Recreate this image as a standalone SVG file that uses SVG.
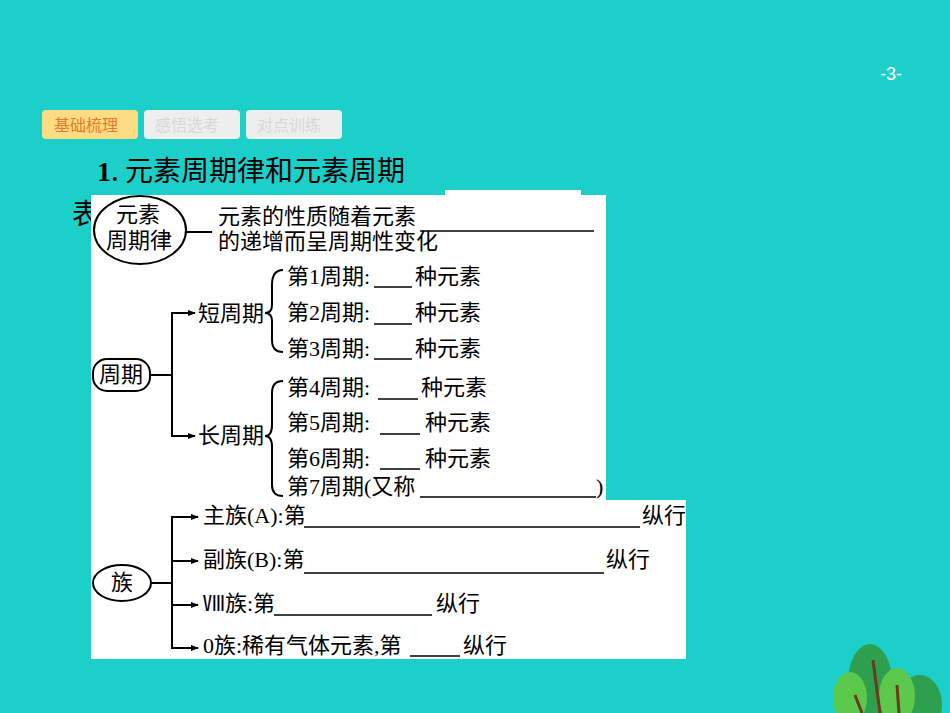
<svg xmlns="http://www.w3.org/2000/svg" width="950" height="713" viewBox="0 0 950 713">
<style>
text{font-family:"Liberation Serif","Noto Sans CJK SC",serif;fill:#000}
.t{font-size:22px}
.l{stroke:#000;stroke-width:2;fill:none}
.u{stroke:#000;stroke-width:1.5}
.tab{font-family:"Noto Sans CJK SC",sans-serif;font-size:16px}
</style>
<defs><marker id="a" markerWidth="8" markerHeight="8" refX="7" refY="4" orient="auto" markerUnits="userSpaceOnUse"><path d="M0,1 L8,4 L0,7z" fill="#000"/></marker></defs>
<rect width="950" height="713" fill="#1ccfc9"/>
<text x="880" y="80" style="font-family:'Liberation Sans',sans-serif;font-size:18px;fill:#fff">-3-</text>
<g id="tabs">
<rect x="42" y="110" width="96" height="29" rx="4" fill="#fddc84"/><text class="tab" x="54" y="131" style="fill:#e8782a">基础梳理</text>
<rect x="144" y="110" width="96" height="29" rx="4" fill="#eeeeee"/><text class="tab" x="155" y="131" style="fill:#d8d8d8">感悟选考</text>
<rect x="246" y="110" width="96" height="29" rx="4" fill="#eeeeee"/><text class="tab" x="257" y="131" style="fill:#d8d8d8">对点训练</text>
</g>
<text x="97" y="181" style="font-size:28px;font-family:'Noto Sans CJK SC',sans-serif"><tspan font-family="Liberation Serif" font-weight="bold">1</tspan>. 元素周期律和元素周期</text>
<text x="72" y="224" style="font-size:28px;font-family:'Noto Sans CJK SC',sans-serif">表</text>
<rect x="445" y="190" width="136" height="10" fill="#fff"/>
<path d="M91,195 H606 V500 H686 V659 H91Z" fill="#fff"/>
<g id="n1"><ellipse cx="140" cy="230" rx="46" ry="34" class="l"/><text class="t" x="116" y="222">元素</text><text class="t" x="106" y="248">周期律</text>
<text class="t" x="218" y="224">元素的性质随着元素</text><line class="u" x1="420" y1="231" x2="594" y2="231"/><text class="t" x="218" y="249">的递增而呈周期性变化</text></g>
<g id="n2"><rect x="93" y="359" width="57" height="32" rx="14" class="l"/><text class="t" x="99" y="382">周期</text>
<text class="t" x="198" y="321">短周期</text><text class="t" x="198" y="443">长周期</text>
<text class="t" x="287" y="284">第1周期:</text><line class="u" x1="374" y1="287" x2="412" y2="287"/><text class="t" x="415" y="284">种元素</text>
<text class="t" x="287" y="320">第2周期:</text><line class="u" x1="374" y1="324" x2="412" y2="324"/><text class="t" x="415" y="320">种元素</text>
<text class="t" x="287" y="356">第3周期:</text><line class="u" x1="374" y1="359" x2="412" y2="359"/><text class="t" x="415" y="356">种元素</text>
<text class="t" x="287" y="395">第4周期:</text><line class="u" x1="378" y1="399" x2="418" y2="399"/><text class="t" x="421" y="395">种元素</text>
<text class="t" x="287" y="430">第5周期:</text><line class="u" x1="380" y1="434" x2="420" y2="434"/><text class="t" x="425" y="430">种元素</text>
<text class="t" x="287" y="466">第6周期:</text><line class="u" x1="380" y1="469" x2="420" y2="469"/><text class="t" x="425" y="466">种元素</text>
<text class="t" x="287" y="494">第7周期(又称</text><line class="u" x1="420" y1="497" x2="596" y2="497"/><text class="t" x="596" y="494">)</text></g>
<g id="n3"><ellipse cx="122" cy="583" rx="29" ry="18" class="l"/><text class="t" x="111" y="590">族</text>
<text class="t" x="203" y="523">主族(A):第</text><line class="u" x1="304" y1="527" x2="640" y2="527"/><text class="t" x="642" y="523">纵行</text>
<text class="t" x="203" y="567">副族(B):第</text><line class="u" x1="304" y1="573" x2="604" y2="573"/><text class="t" x="606" y="567">纵行</text>
<text class="t" x="203" y="611">Ⅷ族:第</text><line class="u" x1="274" y1="615" x2="432" y2="615"/><text class="t" x="436" y="611">纵行</text>
<text class="t" x="203" y="653">0族:稀有气体元素,第</text><line class="u" x1="410" y1="656" x2="460" y2="656"/><text class="t" x="463" y="653">纵行</text></g>
<g id="connectors">
<path class="l" d="M186,232 H212"/>
<path class="l" d="M150,375 H172 M172,375 V313 H195 M172,375 V436 H195"/>
<path class="l" d="M185,313 H195" marker-end="url(#a)"/><path class="l" d="M185,436 H195" marker-end="url(#a)"/>
<path class="l" d="M283,270 Q272,270 272,285 V305 Q272,313 265,313 Q272,313 272,321 V340 Q272,352 283,352"/>
<path class="l" d="M283,381 Q272,381 272,393 V425 Q272,436 265,436 Q272,436 272,447 V485 Q272,496 283,496"/>
<path class="l" d="M151,583 H172 M172,583 V517 H198 M172,583 V648 H198 M172,561 H198 M172,605 H198"/>
<path class="l" d="M190,517 H198" marker-end="url(#a)"/><path class="l" d="M190,561 H198" marker-end="url(#a)"/><path class="l" d="M190,605 H198" marker-end="url(#a)"/><path class="l" d="M190,648 H198" marker-end="url(#a)"/>
</g>
<g id="trees">
<ellipse cx="920" cy="705" rx="22" ry="30" fill="#2e9e4f"/>
<ellipse cx="870" cy="682" rx="22" ry="38" fill="#2e9e4f"/>
<ellipse cx="850" cy="698" rx="17" ry="26" fill="#5cc84c"/>
<ellipse cx="897" cy="696" rx="18" ry="28" fill="#5cc84c"/>
<path d="M873,660 L880,713 M855,695 L862,713 M897,685 L899,713" stroke="#6b3b1e" stroke-width="3"/>
</g>
</svg>
